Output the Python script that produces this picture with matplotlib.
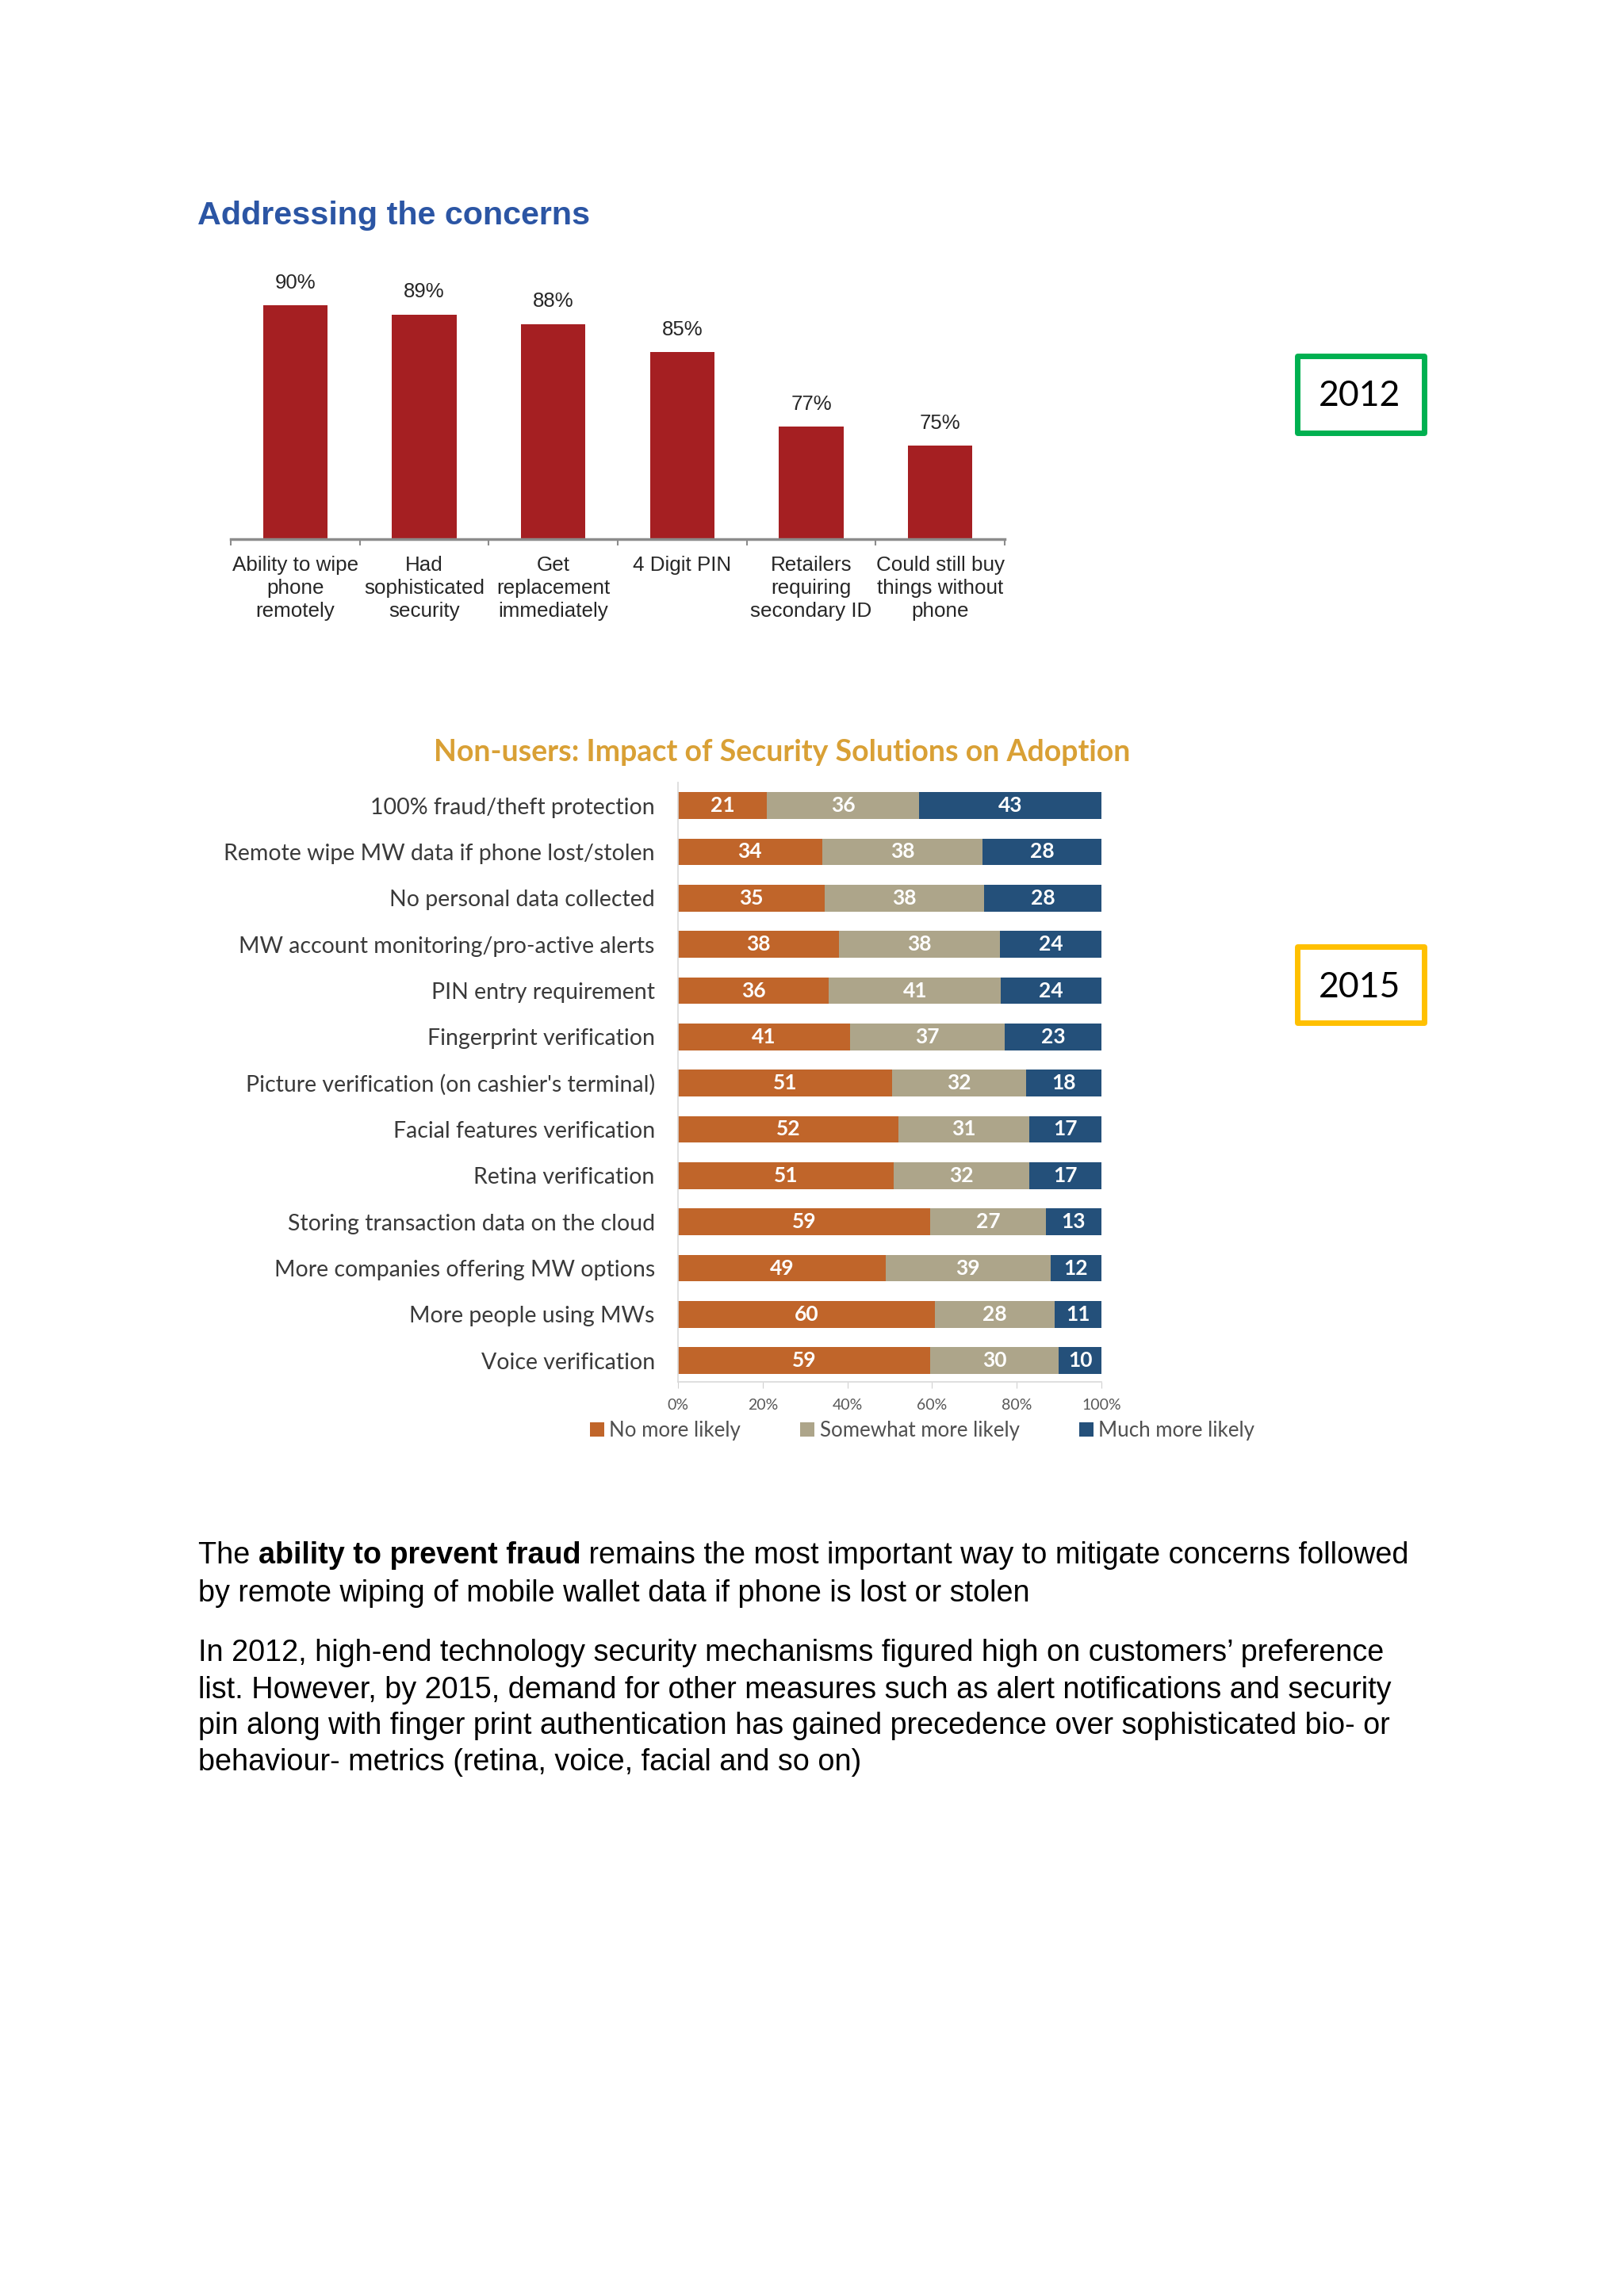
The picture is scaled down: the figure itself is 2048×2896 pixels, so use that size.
import matplotlib
matplotlib.use('Agg')
from matplotlib import pyplot as plt
from matplotlib.patches import Rectangle
import numpy as np

# ---- data ----
cats_2012 = ['Ability to wipe\nphone\nremotely', 'Had\nsophisticated\nsecurity',
             'Get\nreplacement\nimmediately', '4 Digit PIN',
             'Retailers\nrequiring\nsecondary ID', 'Could still buy\nthings without\nphone']
pct_2012 = [90, 89, 88, 85, 77, 75]

features_2015 = ['100% fraud/theft protection', 'Remote wipe MW data if phone lost/stolen',
                 'No personal data collected', 'MW account monitoring/pro-active alerts',
                 'PIN entry requirement', 'Fingerprint verification',
                 "Picture verification (on cashier's terminal)", 'Facial features verification',
                 'Retina verification', 'Storing transaction data on the cloud',
                 'More companies offering MW options', 'More people using MWs', 'Voice verification']
no_more = [21, 34, 35, 38, 36, 41, 51, 52, 51, 59, 49, 60, 59]
somewhat = [36, 38, 38, 38, 41, 37, 32, 31, 32, 27, 39, 28, 30]
much_more = [43, 28, 28, 24, 24, 23, 18, 17, 17, 13, 12, 11, 10]
legend_labels = ['No more likely', 'Somewhat more likely', 'Much more likely']
xticks_2015 = ['0%', '20%', '40%', '60%', '80%', '100%']

W, H = 2048, 2896
fig = plt.figure(figsize=(W/100, H/100), dpi=100)
fx = lambda px: px / W
fy = lambda py: 1 - py / H

ARIAL = 'Liberation Sans'
CAL = 'Lato'

# ---- title ----
fig.text(fx(249), fy(272), 'Addressing the concerns', family=ARIAL, weight='bold',
         fontsize=29.7, color='#2B55A4', va='center', ha='left')

# ---- 2012 column chart ----
ax1 = fig.add_axes([fx(291), fy(680), fx(1267) - fx(291), (680 - 340) / H])
x = np.arange(len(pct_2012))
ax1.bar(x, pct_2012, width=0.5, color='#A51F22')
ax1.set_xlim(-0.5, len(pct_2012) - 0.5)
ax1.set_ylim(65, 65 + (680 - 340) / 11.8)
for xi, v in zip(x, pct_2012):
    ax1.annotate(f'{v}%', (xi, v), xytext=(0, 20.5), textcoords='offset points',
                 ha='center', va='center', fontsize=18.5, family=ARIAL, color='#262626')
for s in ['top', 'right', 'left']:
    ax1.spines[s].set_visible(False)
ax1.spines['bottom'].set_color('#8C8C8C')
ax1.spines['bottom'].set_linewidth(2.5)
ax1.set_yticks([])
ax1.set_xticks(np.arange(len(pct_2012) + 1) - 0.5)
ax1.set_xticklabels([])
ax1.tick_params(axis='x', which='major', length=6, width=1.5, color='#8C8C8C')
ax1.set_xticks(x, minor=True)
ax1.set_xticklabels(cats_2012, minor=True, fontsize=18.7, family=ARIAL, color='#262626',
                    linespacing=1.28)
ax1.tick_params(axis='x', which='minor', length=0, pad=15)

# ---- year boxes ----
for ytop, label, col in [(446, '2012', '#00B050'), (1191, '2015', '#FFC000')]:
    fig.patches.append(Rectangle((fx(1635.5), fy(ytop + 99.5)), (1795.5 - 1635.5) / W, 96 / H,
                                 transform=fig.transFigure, fill=False, edgecolor=col,
                                 linewidth=5, joinstyle='round'))
    fig.text(fx(1715), fy(ytop + 54), label, family=CAL, fontsize=32, color='black',
             ha='center', va='center')

# ---- 2015 stacked bar chart ----
fig.text(fx(986), fy(949), 'Non-users: Impact of Security Solutions on Adoption', family=CAL,
         weight='bold', fontsize=27, color='#D9A035', ha='center', va='center')

ax2 = fig.add_axes([fx(855), fy(1743), fx(1389) - fx(855), (1743 - 987) / H])
vals = np.array([no_more, somewhat, much_more], dtype=float)
shares = vals / vals.sum(axis=0) * 100
colors = ['#C0652A', '#ADA58A', '#24507A']
y = np.arange(len(features_2015))
left = np.zeros(len(features_2015))
handles = []
for row, raw, col, lab in zip(shares, vals, colors, legend_labels):
    bars = ax2.barh(y, row, left=left, height=0.58, color=col, label=lab)
    handles.append(bars)
    for yi, l, w, r in zip(y, left, row, raw):
        ax2.text(l + w / 2, yi, f'{int(r)}', ha='center', va='center', color='white',
                 weight='bold', fontsize=19, family=CAL)
    left += row
ax2.set_xlim(0, 100)
ax2.set_ylim(12.46, -0.5)
ax2.set_yticks(y)
ax2.set_yticklabels(features_2015, fontsize=20.5, family=CAL, color='#3A3A3A')
ax2.tick_params(axis='y', length=0, pad=21)
ax2.set_xticks(np.arange(0, 101, 20))
ax2.set_xticklabels(xticks_2015, fontsize=14, family=CAL, color='#595959')
ax2.tick_params(axis='x', length=6, color='#D0D0D0', pad=9)
for s in ['top', 'right']:
    ax2.spines[s].set_visible(False)
for s in ['left', 'bottom']:
    ax2.spines[s].set_color('#D9D9D9')
    ax2.spines[s].set_linewidth(1.2)

fig.legend(handles, legend_labels, loc='center', bbox_to_anchor=(fx(1163), fy(1805)),
           ncol=3, frameon=False, prop={'family': CAL, 'size': 18.6}, handlelength=0.7,
           handleheight=0.7, handletextpad=0.25, columnspacing=2.9, labelcolor='#505050')

# ---- body text ----
body = dict(family=ARIAL, fontsize=27.2, color='black')
t0 = fig.text(fx(250), fy(1962), 'The ', va='center', ha='left', **body)
b1 = plt.annotate('ability to prevent fraud', xy=(1, 0), xycoords=t0, va='bottom',
                  ha='left', weight='bold', **body)
plt.annotate(' remains the most important way to mitigate concerns followed', xy=(1, 0),
             xycoords=b1, va='bottom', ha='left', **body)
rest = [(2010, 'by remote wiping of mobile wallet data if phone is lost or stolen'),
        (2085, 'In 2012, high-end technology security mechanisms figured high on customers\u2019 preference'),
        (2132, 'list. However, by 2015, demand for other measures such as alert notifications and security'),
        (2177, 'pin along with finger print authentication has gained precedence over sophisticated bio- or'),
        (2223, 'behaviour- metrics (retina, voice, facial and so on)')]
for py, s in rest:
    fig.text(fx(250), fy(py), s, va='center', ha='left', **body)

fig.savefig('out.png', dpi=100, facecolor='white')
